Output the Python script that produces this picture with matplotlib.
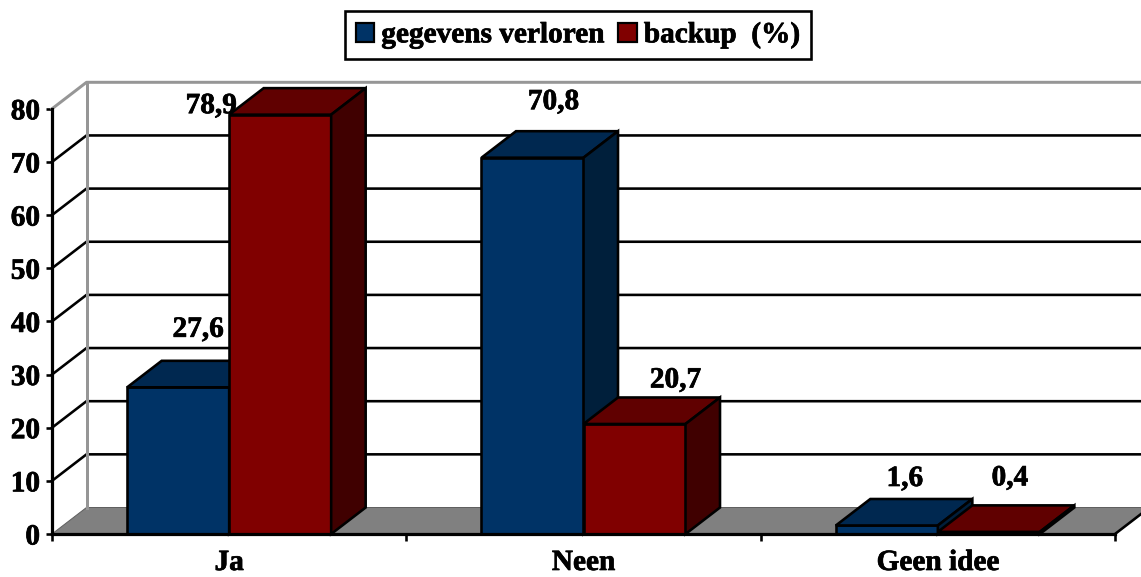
import matplotlib
matplotlib.use("Agg")
import matplotlib.pyplot as plt
import matplotlib.patheffects as pe
from matplotlib.patches import Polygon, Patch

categories = ["Ja", "Neen", "Geen idee"]
verloren = [27.6, 70.8, 1.6]
backup = [78.9, 20.7, 0.4]
verloren_labels = ["27,6", "70,8", "1,6"]
backup_labels = ["78,9", "20,7", "0,4"]
series_names = ["gegevens verloren", "backup  (%)"]
yticks = [0, 10, 20, 30, 40, 50, 60, 70, 80]

# label offsets from front-top bar centre, in px (dpi 72: 1pt = 1px)
verloren_off = [(20, 58), (21, 56), (18, 47)]
backup_off = [(-69, 9), (41, 44), (21, 54)]

W, H, DPI = 1141, 577, 72
plt.rcParams["font.family"] = ["Liberation Serif", "DejaVu Serif"]
plt.rcParams["font.weight"] = "bold"
FS = 29.3
HEAVY = [pe.withStroke(linewidth=0.7, foreground="black")]
fig = plt.figure(figsize=(W / DPI, H / DPI), dpi=DPI)
x0, x1, y0, y80 = 52, 1115, 534, 108.8
ax = fig.add_axes([x0 / W, 1 - y0 / H, (x1 - x0) / W, (y0 - y80) / H])
ax.set_xlim(0, 3)
ax.set_ylim(0, 80)

DX = 34.5 / ((x1 - x0) / 3)   # depth in category units
DY = 26.5 / ((y0 - y80) / 80)  # depth in value units
BW = 102 / ((x1 - x0) / 3)
RIGHT = 3 + DX
BLUE = ("#003366", "#002850", "#001F3B")
RED = ("#800000", "#600000", "#400000")
GRAY = "#808080"


def poly(pts, fc, ec, lw, z):
    ax.add_patch(Polygon(pts, closed=True, facecolor=fc, edgecolor=ec, lw=lw,
                         zorder=z, clip_on=False, joinstyle="miter"))


# floor
poly([(0, 0), (DX, DY), (RIGHT, DY), (3, 0)], GRAY, "#606060", 1, 1)
ax.plot([3, RIGHT], [0, DY], color="black", lw=2.6, zorder=1.5, clip_on=False)
# gridlines: slant + back line
for v in yticks[1:-1]:
    ax.plot([0, DX, RIGHT], [v, v + DY, v + DY], color="black", lw=2.6,
            zorder=1.5, clip_on=False, solid_joinstyle="round")
# wall frame
ax.plot([0, DX, RIGHT], [80, 80 + DY, 80 + DY], color="#969696", lw=3, zorder=1.6, clip_on=False)
ax.plot([DX, DX], [DY, 80 + DY], color="#969696", lw=3, zorder=1.6, clip_on=False)


def bar3d(left, val, cols, z):
    r = left + BW
    ax.bar(left, val, width=BW, align="edge", facecolor=cols[0], edgecolor="black",
           lw=2.6, zorder=z, clip_on=False)
    poly([(left, val), (left + DX, val + DY), (r + DX, val + DY), (r, val)], cols[1], "black", 2.6, z)
    poly([(r, 0), (r + DX, DY), (r + DX, val + DY), (r, val)], cols[2], "black", 2.6, z)


for i in range(len(categories)):
    c = i + 0.5
    bar3d(c - BW, verloren[i], BLUE, 3 + i)
    bar3d(c, backup[i], RED, 3.5 + i)
    for left, val, lab, off in ((c - BW, verloren[i], verloren_labels[i], verloren_off[i]),
                                (c, backup[i], backup_labels[i], backup_off[i])):
        ax.annotate(lab, (left + BW / 2, val), xytext=off, textcoords="offset points",
                    ha="center", va="center", fontsize=FS, fontweight="bold", zorder=10,
                    annotation_clip=False, path_effects=HEAVY)

# axes
for s in ("top", "right"):
    ax.spines[s].set_visible(False)
for s in ("left", "bottom"):
    ax.spines[s].set_linewidth(3.2)
    ax.spines[s].set_zorder(8)
ax.patch.set_alpha(0)
ax.set_yticks(yticks)
ax.set_xticks([0, 1, 2, 3])
ax.set_xticklabels([])
ax.set_xticks([0.5, 1.5, 2.5], minor=True)
ax.set_xticklabels(categories, minor=True, fontsize=FS, fontweight="bold")
ax.tick_params(axis="x", which="major", length=7, width=2.6, direction="out")
ax.tick_params(axis="x", which="minor", length=0, pad=15)
ax.tick_params(axis="y", length=6, width=2.6, pad=6, labelsize=FS)
for t in ax.get_yticklabels() + ax.get_xticklabels(minor=True):
    t.set_path_effects(HEAVY)

# legend
handles = [Patch(facecolor=BLUE[0], edgecolor="black", lw=2.2),
           Patch(facecolor=RED[0], edgecolor="black", lw=2.2)]
leg = fig.legend(handles, series_names, loc="center", ncol=2,
                 bbox_to_anchor=(578 / W, 1 - 35 / H), fontsize=FS, frameon=True,
                 fancybox=False, edgecolor="black", framealpha=1,
                 handlelength=0.62, handleheight=0.62, handletextpad=0.25,
                 columnspacing=0.48, borderpad=0.36, borderaxespad=0)
leg.get_frame().set_linewidth(2.6)
for t in leg.get_texts():
    t.set_fontweight("bold")
    t.set_path_effects(HEAVY)

fig.savefig("out.png", dpi=DPI)
